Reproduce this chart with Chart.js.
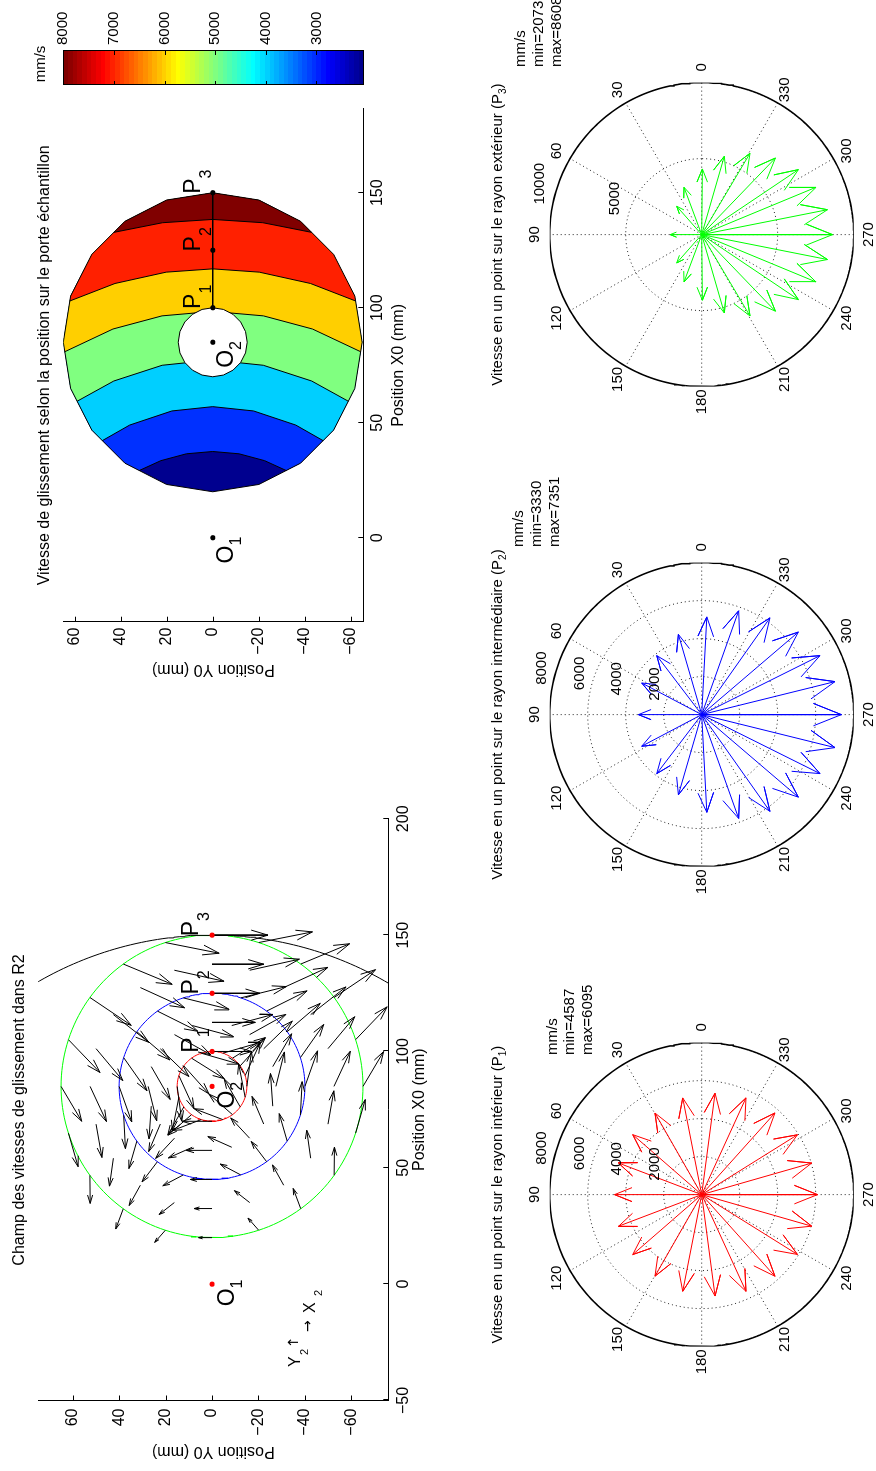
<!DOCTYPE html>
<html>
<head>
<meta charset="utf-8">
<script src="https://cdn.jsdelivr.net/npm/chart.js@4.4.1/dist/chart.umd.min.js"></script>
<style>
  html, body { margin:0; padding:0; background:#fff; width:876px; height:1471px; overflow:hidden; }
  #page { position:absolute; left:0; top:0; width:1471px; height:876px; background:#fff;
          transform-origin:0 0; transform:translate(0px,1471px) rotate(-90deg); }
  #page canvas { position:absolute; }
</style>
</head>
<body>
<div id="page">
  <canvas id="cB" width="740" height="470" style="left:0px;top:0px"></canvas>
  <canvas id="cA" width="640" height="470" style="left:740px;top:0px"></canvas>
  <canvas id="cC" width="101" height="470" style="left:1370px;top:0px"></canvas>
  <canvas id="cP1" width="480" height="406" style="left:80px;top:470px"></canvas>
  <canvas id="cP2" width="480" height="406" style="left:560px;top:470px"></canvas>
  <canvas id="cP3" width="431" height="406" style="left:1040px;top:470px"></canvas>
</div>
<script>
// ======================= DATA =======================
// sample points: 20 positions (18 deg apart) on 5 rings around O2
const posStepDeg = 18;
const nPos = 20;
const o2X = 85;
const ringRadius = [15, 27.5, 40, 52.5, 65];
// direction of the sliding velocity: deviation (deg) from 270 deg, k = 0..10 (mirror for the other half)
const devP1  = [0, 16, 32, 48.1, 65.4, 82.5, 101.1, 119.8, 139, 159.2, 180];
const devR27 = [0, 15, 29, 44, 60, 76, 94, 113, 133, 156, 180];
const devP2  = [0, 13.9, 26.5, 40.5, 54.8, 70.4, 87, 106.2, 127.3, 152.2, 180];
const devR52 = [0, 12.5, 24.5, 38, 50, 65, 80, 98, 119, 142, 180];
const devP3  = [0, 11.2, 22.5, 33.9, 46.1, 59.3, 73.9, 89.4, 110.5, 131.4, 180];
// speed (mm/s), k = 0..10
const speedP1  = [6095, 6024, 5942, 5774, 5600, 5384, 5186, 4948, 4810, 4690, 4587];
const speedR27 = [6650, 6560, 6380, 6120, 5820, 5450, 5030, 4600, 4250, 4030, 3950];
const speedP2  = [7351, 7228, 6958, 6690, 6232, 5800, 5150, 4395, 3905, 3569, 3330];
const speedR52 = [7950, 7830, 7480, 6900, 6400, 5960, 5200, 4330, 3560, 2980, 2750];
const speedP3  = [8608, 8434, 8140, 7665, 6995, 6225, 5365, 4320, 3325, 2486, 2073];
const quiverScale = 0.0028;   // mm of arrow per mm/s

const pointNames = ['O', 'O', 'P', 'P', 'P'];
const pointSubs  = ['1', '2', '1', '2', '3'];
const pointX     = [0, 85, 100, 125, 150];

// contour map (chart A)
const contourLevels = [3000, 4000, 5000, 6000, 7000, 8000];
const contour3000 = [[29.23,31.96],[33.52,22.57],[36.5,11.46],[37.5,0],[36.5,-11.46],[33.52,-22.57],[29.23,-31.96]];
const contour4000 = [[42.23,48.03],[48.99,36.13],[55.13,17.78],[57,0],[55.13,-17.78],[48.99,-36.13],[42.23,-48.03]];
const contour5000 = [[59.35,58.99],[68.15,43.03],[74.99,22.0],[77.3,0],[74.99,-22.0],[68.15,-43.03],[59.35,-58.99]];
const contour6000 = [[80.88,64.35],[90.75,43.4],[96.47,22.04],[98.4,0],[96.47,-22.04],[90.75,-43.4],[80.88,-64.35]];
const contour7000 = [[102.94,62.16],[110.55,42.51],[115.48,20.24],[116.9,0],[115.48,-20.24],[110.55,-42.51],[102.94,-62.16]];
const contour8000 = [[132.77,43.03],[136.97,21.78],[138.4,0],[136.97,-21.78],[132.77,-43.03]];
const bandMaxTheta = [144, 126, 108, 90, 72, 36];
const bandColors = ['#00008F', '#0030FF', '#00CFFF', '#80FF80', '#FFCF00', '#FF2000', '#800000'];
const colorbarMin = 2073, colorbarMax = 8000;
const colorbarTicks = [3000, 4000, 5000, 6000, 7000, 8000];

// axis ticks
const ticksXB = [-50, 0, 50, 100, 150, 200];
const ticksXA = [0, 50, 100, 150];
const ticksY  = [-60, -40, -20, 0, 20, 40, 60];
const polarAngleTicks = [0, 30, 60, 90, 120, 150, 180, 210, 240, 270, 300, 330];
const polarRingsP12 = [2000, 4000, 6000, 8000];
const polarRingsP3 = [5000, 10000];
const polarMin = [4587, 3330, 2073];
const polarMax = [6095, 7351, 8608];

// ======================= HELPERS =======================
const FONT = '"Liberation Sans", Arial, Helvetica, sans-serif';
Chart.defaults.font.family = FONT;
Chart.defaults.color = '#000';
const D2R = Math.PI / 180;

function fmtTick(v) { return v < 0 ? '\u2212' + Math.abs(v) : String(v); }
function toObj(arr) { return arr.map(p => p ? {x: p[0], y: p[1]} : {x: null, y: null}); }
function lineDS(arr, color, width, dash) {
  return {data: toObj(arr), showLine: true, borderColor: color, borderWidth: width, borderDash: dash || [],
          pointRadius: 0, pointHoverRadius: 0, fill: false, tension: 0, spanGaps: false};
}
function fillDS(arr, color) {
  return {data: toObj(arr), showLine: false, pointRadius: 0, pointHoverRadius: 0, polyFill: color};
}
function circlePts(cx, cy, r, n, a0, a1) {
  const out = [];
  if (a0 === undefined) { a0 = 0; a1 = 360; }
  for (let i = 0; i <= n; i++) {
    const a = (a0 + (a1 - a0) * i / n) * D2R;
    out.push([cx + r * Math.cos(a), cy + r * Math.sin(a)]);
  }
  return out;
}
function withOrder(list) { list.forEach((d, i) => { d.order = -i; }); return list; }
function drawRich(ctx, x, y, parts, align) {
  const w = parts.map(p => { ctx.font = p.s + 'px ' + FONT; return ctx.measureText(p.t).width; });
  const total = w.reduce((a, b) => a + b, 0);
  let x0 = align === 'center' ? x - total / 2 : (align === 'right' ? x - total : x);
  ctx.textAlign = 'left';
  parts.forEach((p, i) => {
    ctx.font = p.s + 'px ' + FONT;
    ctx.textBaseline = p.base || 'alphabetic';
    ctx.fillText(p.t, x0, y + (p.dy || 0));
    x0 += w[i];
  });
}
// fill a polygon given by the dataset points (positioned by the chart scales)
Chart.register({
  id: 'polyFill',
  beforeDatasetDraw(chart, args) {
    const ds = chart.data.datasets[args.index];
    if (!ds.polyFill) return;
    const pts = args.meta.data, ctx = chart.ctx;
    ctx.save();
    ctx.beginPath();
    pts.forEach((p, i) => i ? ctx.lineTo(p.x, p.y) : ctx.moveTo(p.x, p.y));
    ctx.closePath();
    ctx.fillStyle = ds.polyFill;
    ctx.fill();
    ctx.restore();
  }
});
const inTicks = {
  id: 'inTicks',
  afterDatasetsDraw(chart) {
    const a = chart.chartArea, ctx = chart.ctx;
    ctx.save(); ctx.strokeStyle = '#000'; ctx.lineWidth = 1;
    const xs = chart.scales.x, ys = chart.scales.y;
    xs.ticks.forEach(t => { const p = Math.round(xs.getPixelForValue(t.value)) + 0.5;
      ctx.beginPath(); ctx.moveTo(p, a.bottom); ctx.lineTo(p, a.bottom - 5); ctx.stroke(); });
    ys.ticks.forEach(t => { const p = Math.round(ys.getPixelForValue(t.value)) + 0.5;
      ctx.beginPath(); ctx.moveTo(a.left, p); ctx.lineTo(a.left + 5, p); ctx.stroke(); });
    ctx.restore();
  }
};
function axisCfg(min, max, ticks, title, isX, size, titlePad, tickPad) {
  return {
    type: 'linear', min: min, max: max,
    afterBuildTicks: s => { s.ticks = ticks.map(v => ({value: v})); },
    afterFit: s => { if (isX) s.height = size; else s.width = size; },
    grid: {display: false, drawTicks: false},
    border: {display: true, color: '#000', width: 1},
    ticks: {font: {size: 16}, color: '#000', padding: tickPad, callback: v => fmtTick(v), maxRotation: 0, autoSkip: false},
    title: {display: true, text: title, font: {size: 16}, color: '#000', padding: {top: titlePad, bottom: titlePad}}
  };
}
const baseOpts = {responsive: false, animation: false, devicePixelRatio: 1, events: [],
  plugins: {legend: {display: false}, tooltip: {enabled: false}}};

function arrowQuiver(x0, y0, dx, dy) {
  const a = 0.3, b = 0.3, x1 = x0 + dx, y1 = y0 + dy;
  return [[x0, y0], [x1, y1], null,
          [x1 - a * (dx + b * dy), y1 - a * (dy - b * dx)], [x1, y1],
          [x1 - a * (dx - b * dy), y1 - a * (dy + b * dx)], null];
}
function arrowCompass(dx, dy) {
  return [[0, 0], [dx, dy], [0.8 * dx - 0.08 * dy, 0.8 * dy + 0.08 * dx], [dx, dy],
          [0.8 * dx + 0.08 * dy, 0.8 * dy - 0.08 * dx], null];
}
const ringDev = [devP1, devR27, devP2, devR52, devP3];
const ringSpeed = [speedP1, speedR27, speedP2, speedR52, speedP3];
function vecAngle(devArr, k) {
  const j = k <= nPos / 2 ? k : nPos - k;
  return {j: j, ang: (k <= nPos / 2 ? 270 - devArr[j] : 270 + devArr[j]) * D2R};
}

// ======================= CHART B : quiver =======================
(function () {
  const quiver = [];
  ringRadius.forEach((r, ri) => {
    for (let k = 0; k < nPos; k++) {
      const th = k * posStepDeg * D2R;
      const x0 = o2X + r * Math.cos(th), y0 = r * Math.sin(th);
      const va = vecAngle(ringDev[ri], k);
      const L = ringSpeed[ri][va.j] * quiverScale;
      quiver.push(...arrowQuiver(x0, y0, L * Math.cos(va.ang), L * Math.sin(va.ang)));
    }
  });
  const dots = {data: pointX.map(x => ({x: x, y: 0})), showLine: false, pointRadius: 2.6,
    pointBackgroundColor: '#ff0000', pointBorderWidth: 0, pointHoverRadius: 0};
  const ds = withOrder([
    lineDS(circlePts(o2X, 0, 65, 180), '#00ff00', 1),
    lineDS(circlePts(o2X, 0, 40, 180), '#0000ff', 1),
    lineDS(circlePts(o2X, 0, 15, 120), '#ff0000', 1),
    lineDS(circlePts(0, 0, 150, 80, -36, 36), '#000000', 1),
    lineDS(quiver, '#000000', 1),
    dots
  ]);
  const txt = {
    id: 'txtB',
    afterDraw(chart) {
      const ctx = chart.ctx, xs = chart.scales.x, ys = chart.scales.y;
      ctx.save(); ctx.fillStyle = '#000';
      drawRich(ctx, 361, 24, [{t: 'Champ des vitesses de glissement dans R2', s: 16}], 'center');
      pointX.forEach((x, i) => {
        if (pointNames[i] === 'O') {
          drawRich(ctx, xs.getPixelForValue(x + 2), ys.getPixelForValue(-9.5),
            [{t: 'O', s: 23}, {t: pointSubs[i], s: 16, dy: 8}], 'right');
        } else {
          drawRich(ctx, xs.getPixelForValue(x - 0.5), ys.getPixelForValue(6),
            [{t: 'P', s: 23}, {t: pointSubs[i], s: 16, dy: 11}], 'left');
        }
      });
      ctx.textBaseline = 'alphabetic'; ctx.textAlign = 'left';
      ctx.font = '16px ' + FONT; ctx.fillText('Y', 104, 300);
      ctx.font = '11px ' + FONT; ctx.fillText('2', 116, 308);
      ctx.font = '14px "DejaVu Sans", sans-serif'; ctx.fillText('\u2191', 123, 298);
      ctx.font = '14px "DejaVu Sans", sans-serif'; ctx.fillText('\u2192', 139, 312);
      ctx.font = '16px ' + FONT; ctx.fillText('X', 158, 315);
      ctx.font = '11px ' + FONT; ctx.fillText('2', 175, 322);
      ctx.restore();
    }
  };
  new Chart(document.getElementById('cB'), {
    type: 'scatter', data: {datasets: ds},
    options: Object.assign({}, baseOpts, {
      layout: {padding: {left: 0, top: 38.3, right: 87.8, bottom: 31.7}},
      scales: {
        x: axisCfg(-50, 200, ticksXB, 'Position X0 (mm)', true, 50, 9, 6),
        y: axisCfg(-75.9, 74.8, ticksY, 'Position Y0 (mm)', false, 70.5, 10.3, 8)
      }
    }),
    plugins: [inTicks, txt]
  });
})();

// ======================= CHART A : contour map =======================
(function () {
  const disk = [], hole = [];
  for (let k = 0; k <= nPos; k++) {
    const th = (k % nPos) * posStepDeg * D2R;
    disk.push([o2X + 65 * Math.cos(th), 65 * Math.sin(th)]);
    hole.push([o2X + 15 * Math.cos(th), 15 * Math.sin(th)]);
  }
  const contours = [contour3000, contour4000, contour5000, contour6000, contour7000, contour8000];
  const bands = contours.map((c, i) => {
    const poly = c.slice();
    for (let a = -bandMaxTheta[i]; a <= bandMaxTheta[i]; a += posStepDeg) {
      poly.push([o2X + 65 * Math.cos(a * D2R), 65 * Math.sin(a * D2R)]);
    }
    return fillDS(poly, bandColors[i + 1]);
  });
  const holeDS = lineDS(hole, '#000', 1); holeDS.polyFill = '#ffffff';
  const dots = {data: pointX.map(x => ({x: x, y: 0})), showLine: false, pointRadius: 2.6,
    pointBackgroundColor: '#000', pointBorderWidth: 0, pointHoverRadius: 0};
  const ds = withOrder([
    fillDS(disk, bandColors[0]),
    ...bands,
    ...contours.map(c => lineDS(c, '#000', 1)),
    lineDS(disk, '#000', 1),
    holeDS,
    lineDS([[pointX[2], 0], [pointX[4], 0]], '#000', 1.5),
    dots
  ]);
  const txt = {
    id: 'txtA',
    afterDraw(chart) {
      const ctx = chart.ctx, xs = chart.scales.x, ys = chart.scales.y;
      ctx.save(); ctx.fillStyle = '#000';
      drawRich(ctx, 365.7, 49, [{t: 'Vitesse de glissement selon la position sur le porte \u00e9chantillon', s: 16}], 'center');
      pointX.forEach((x, i) => {
        if (pointNames[i] === 'O') {
          drawRich(ctx, xs.getPixelForValue(x + 0.5), ys.getPixelForValue(-8.8),
            [{t: 'O', s: 23}, {t: pointSubs[i], s: 16, dy: 8}], 'right');
        } else {
          drawRich(ctx, xs.getPixelForValue(x - 0.5), ys.getPixelForValue(5.5),
            [{t: 'P', s: 23}, {t: pointSubs[i], s: 16, dy: 11}], 'left');
        }
      });
      ctx.restore();
    }
  };
  new Chart(document.getElementById('cA'), {
    type: 'scatter', data: {datasets: ds},
    options: Object.assign({}, baseOpts, {
      layout: {padding: {left: 0, top: 63.3, right: 18, bottom: 56.7}},
      scales: {
        x: axisCfg(-36.5, 186.4, ticksXA, 'Position X0 (mm)', true, 50, 5, 5),
        y: axisCfg(-65.5, 65, ticksY, 'Position Y0 (mm)', false, 109.3, 52, 6)
      }
    }),
    plugins: [inTicks, txt]
  });
})();

// ======================= COLORBAR =======================
(function () {
  function jet64(n) {
    let r, g, b;
    if (n <= 8) { r = 0; g = 0; b = 0.5 + n / 16; }
    else if (n <= 24) { r = 0; g = (n - 8) / 16; b = 1; }
    else if (n <= 40) { r = (n - 24) / 16; g = 1; b = 1 - (n - 24) / 16; }
    else if (n <= 56) { r = 1; g = 1 - (n - 40) / 16; b = 0; }
    else { r = 1 - (n - 56) / 16; g = 0; b = 0; }
    return 'rgb(' + Math.round(r * 255) + ',' + Math.round(g * 255) + ',' + Math.round(b * 255) + ')';
  }
  function grad(context) {
    const a = context.chart.chartArea;
    if (!a) return '#000';
    const g = context.chart.ctx.createLinearGradient(0, a.bottom, 0, a.top);
    for (let n = 1; n <= 64; n++) {
      g.addColorStop((n - 1) / 64, jet64(n));
      g.addColorStop(n / 64 - 1e-6, jet64(n));
    }
    return g;
  }
  const deco = {
    id: 'cbDeco',
    afterDraw(chart) {
      const a = chart.chartArea, ctx = chart.ctx, ys = chart.scales.y;
      ctx.save(); ctx.strokeStyle = '#000'; ctx.lineWidth = 1;
      ctx.strokeRect(Math.round(a.left) + 0.5, Math.round(a.top) + 0.5, Math.round(a.right - a.left), Math.round(a.bottom - a.top));
      ys.ticks.forEach(t => { const p = Math.round(ys.getPixelForValue(t.value)) + 0.5;
        ctx.beginPath(); ctx.moveTo(a.left, p); ctx.lineTo(a.left + 4, p); ctx.moveTo(a.right, p); ctx.lineTo(a.right - 4, p); ctx.stroke(); });
      ctx.fillStyle = '#000';
      drawRich(ctx, (a.left + a.right) / 2 + 4, 45, [{t: 'mm/s', s: 15}], 'center');
      ctx.restore();
    }
  };
  new Chart(document.getElementById('cC'), {
    type: 'bar',
    data: {labels: [''], datasets: [{data: [[colorbarMin, colorbarMax]], backgroundColor: grad, borderWidth: 0,
      barPercentage: 1, categoryPercentage: 1}]},
    options: Object.assign({}, baseOpts, {
      layout: {padding: {left: 16, top: 63.3, right: 0, bottom: 106.7}},
      scales: {
        x: {display: false},
        y: {position: 'right', min: colorbarMin, max: colorbarMax,
            afterBuildTicks: s => { s.ticks = colorbarTicks.map(v => ({value: v})); },
            afterFit: s => { s.width = 51; },
            grid: {display: false, drawTicks: false}, border: {display: false},
            ticks: {padding: 6, font: {size: 15}, color: '#000', callback: v => String(v)}}
      }
    }),
    plugins: [deco]
  });
})();

// ======================= POLAR (compass) CHARTS =======================
function polarChart(id, ringIdx, color, R, rings, titleSub, titleMain, info, infoX, infoY, width) {
  const spokes = [];
  for (let a = 30; a <= 180; a += 30) {
    spokes.push([-R * Math.cos(a * D2R), -R * Math.sin(a * D2R)], [R * Math.cos(a * D2R), R * Math.sin(a * D2R)], null);
  }
  const dotted = [];
  rings.slice(0, -1).forEach(r => { dotted.push(...circlePts(0, 0, r, 120), null); });
  const arrows = [];
  for (let k = 0; k < nPos; k++) {
    const va = vecAngle(ringDev[ringIdx], k);
    const L = ringSpeed[ringIdx][va.j];
    arrows.push(...arrowCompass(L * Math.cos(va.ang), L * Math.sin(va.ang)));
  }
  const ds = withOrder([
    lineDS(spokes, '#222', 1, [1, 3]),
    lineDS(dotted, '#222', 1, [1, 3]),
    lineDS(circlePts(0, 0, R, 240), '#000', 1.6),
    lineDS(arrows, color, 1)
  ]);
  const rinc = rings[0];
  const txt = {
    id: 'txtP',
    afterDraw(chart) {
      const ctx = chart.ctx, xs = chart.scales.x, ys = chart.scales.y;
      ctx.save(); ctx.fillStyle = '#000';
      polarAngleTicks.forEach(a => {
        ctx.font = '15px ' + FONT; ctx.textAlign = 'center'; ctx.textBaseline = 'middle';
        ctx.fillText(String(a), xs.getPixelForValue(1.1 * R * Math.cos(a * D2R)), ys.getPixelForValue(1.1 * R * Math.sin(a * D2R)));
      });
      rings.forEach(r => {
        const rr = r + rinc / 20;
        ctx.font = '15px ' + FONT; ctx.textAlign = 'left'; ctx.textBaseline = 'bottom';
        ctx.fillText('  ' + r, xs.getPixelForValue(rr * Math.cos(82 * D2R)), ys.getPixelForValue(rr * Math.sin(82 * D2R)));
      });
      const cx = xs.getPixelForValue(0);
      drawRich(ctx, cx, 32, [{t: titleMain, s: 15}, {t: titleSub, s: 10, dy: 4}, {t: ')', s: 15}], 'center');
      info.forEach((s, i) => { drawRich(ctx, infoX, infoY[i], [{t: s, s: 15, base: 'middle'}], 'left'); });
      ctx.restore();
    }
  };
  new Chart(document.getElementById(id), {
    type: 'scatter', data: {datasets: ds},
    options: Object.assign({}, baseOpts, {
      layout: {padding: {left: 44.4, top: 79.7, right: width - 348.4, bottom: 22.3}},
      scales: {x: {display: false, min: -R, max: R}, y: {display: false, min: -R, max: R}}
    }),
    plugins: [txt]
  });
}
polarChart('cP1', 0, '#ff0000', 8000, polarRingsP12, '1', 'Vitesse en un point sur le rayon int\u00e9rieur (P',
  ['mm/s', 'min=' + polarMin[0], 'max=' + polarMax[0]], 336, [83, 100, 118], 480);
polarChart('cP2', 2, '#0000ff', 8000, polarRingsP12, '2', 'Vitesse en un point sur le rayon interm\u00e9diaire (P',
  ['mm/s', 'min=' + polarMin[1], 'max=' + polarMax[1]], 364, [49, 67, 85], 480);
polarChart('cP3', 4, '#00ff00', 10000, polarRingsP3, '3', 'Vitesse en un point sur le rayon ext\u00e9rieur (P',
  ['mm/s', 'min=' + polarMin[2], 'max=' + polarMax[2]], 364, [51, 69, 87], 431);
</script>
</body>
</html>
